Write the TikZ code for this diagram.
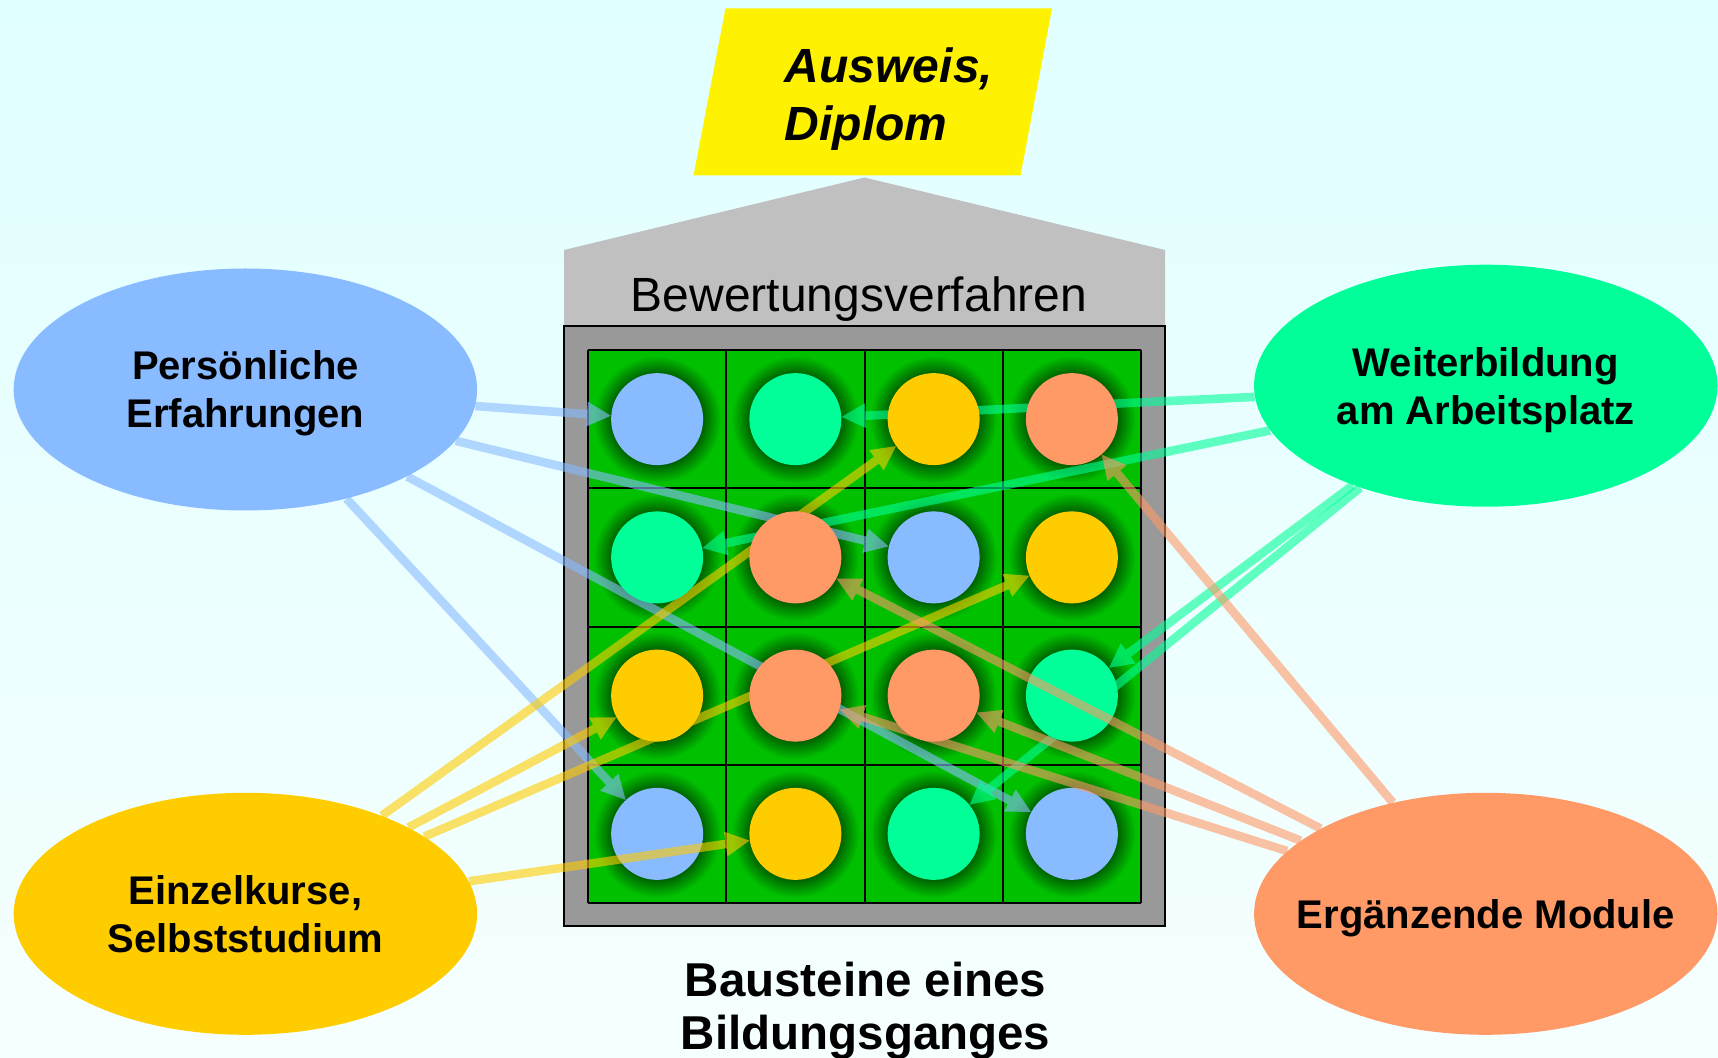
\documentclass[tikz,border=0pt]{standalone}
\usepackage{fontspec}
\setmainfont{Liberation Sans}
\usetikzlibrary{arrows.meta,shapes.geometric,backgrounds}

\definecolor{persblue}{RGB}{136,187,255}
\definecolor{weitgreen}{RGB}{0,255,153}
\definecolor{kursgold}{RGB}{255,204,0}
\definecolor{modorange}{RGB}{255,153,102}
\definecolor{cellgreen}{RGB}{0,192,0}
\definecolor{cellshade}{RGB}{0,75,0}
\definecolor{roofgray}{RGB}{192,192,192}
\definecolor{boxgray}{RGB}{153,153,153}
\definecolor{skytop}{RGB}{224,255,255}
\definecolor{skybottom}{RGB}{246,255,255}

\pgfdeclareradialshading{cellglow}{\pgfpoint{0bp}{0bp}}{color(0bp)=(cellshade); color(15bp)=(cellshade); color(23bp)=(cellgreen); color(50bp)=(cellgreen)}

\tikzset{
  oval/.style={ellipse, minimum width=231.7pt, minimum height=121pt, inner sep=0pt,
    align=center, font=\bfseries\fontsize{20}{24}\selectfont},
  bead/.style={circle, minimum size=46pt, inner sep=0pt},
  feed/.style={line width=4.3pt, opacity=0.6, -{Triangle[length=12pt,width=12.5pt,line width=0pt]}}
}

\begin{document}
\begin{tikzpicture}[x=0.5pt,y=-0.5pt]
  \useasboundingbox (0,0) rectangle (1718,1058);

  \node[oval, fill=persblue, text depth=-3pt] (pers) at (245.4,389.5) {Persönliche\\Erfahrungen};
  \node[oval, fill=weitgreen, text depth=-3pt] (weiter) at (1485.8,385.7) {Weiterbildung\\am Arbeitsplatz};
  \node[oval, fill=kursgold] (kurse) at (245.4,913.8) {Einzelkurse,\\Selbststudium};
  \node[oval, fill=modorange, inner xsep=-15pt, text depth=-3pt] (module) at (1485.8,913.8) {Ergänzende Module};

  \foreach \r/\c/\clr in {1/1/persblue, 1/2/weitgreen, 1/3/kursgold, 1/4/modorange,
                          2/1/weitgreen, 2/2/modorange, 2/3/persblue, 2/4/kursgold,
                          3/1/kursgold, 3/2/modorange, 3/3/modorange, 3/4/weitgreen,
                          4/1/persblue, 4/2/kursgold, 4/3/weitgreen, 4/4/persblue}
    \node[bead, fill=\clr] (c\r\c) at ({588+(\c-0.5)*138.25},{350+(\r-0.5)*138.25}) {};

  \begin{scope}[on background layer]
    \shade[top color=skytop, bottom color=skybottom] (0,0) rectangle (1718,1058);
    \fill[yellow] (725.5,8.5) -- (1052,8.5) -- (1020.5,175.5) -- (693.5,175.5) -- cycle;
    \fill[roofgray] (564,326) -- (564,250) -- (864.5,177.5) -- (1165,250) -- (1165,326) -- cycle;
    \draw[fill=boxgray, line width=1pt] (564,326) rectangle (1165,926);
    \fill[cellgreen] (588,350) rectangle (1141,903);
    \foreach \r in {1,...,4}
      \foreach \c in {1,...,4}
        \shade[shading=cellglow] ({588+(\c-1)*138.25},{350+(\r-1)*138.25}) rectangle ++(138.25,138.25);
    \foreach \k in {0,...,4} {
      \draw[line width=1pt] ({588+\k*138.25},350) -- ++(0,553);
      \draw[line width=1pt] (588,{350+\k*138.25}) -- ++(553,0);
    }
    \draw[feed, persblue] (pers) -- (c11);
    \draw[feed, persblue] (pers) -- (c23);
    \draw[feed, persblue] (pers) -- (c44);
    \draw[feed, persblue] (pers) -- (c41);
    \draw[feed, weitgreen] (weiter) -- (c12);
    \draw[feed, weitgreen] (weiter) -- (c21);
    \draw[feed, weitgreen] (weiter) -- (c34);
    \draw[feed, weitgreen] (weiter) -- (c43);
    \draw[feed, kursgold] (kurse) -- (c13);
    \draw[feed, kursgold] (kurse) -- (c31);
    \draw[feed, kursgold] (kurse) -- (c24);
  \end{scope}

  \draw[feed, kursgold] (kurse) -- (c42);
  \draw[feed, modorange] (module) -- (c14);
  \draw[feed, modorange] (module) -- (c22);
  \draw[feed, modorange] (module) -- (c33);
  \draw[feed, modorange] (module) -- (c32);

  \node[inner sep=0pt, align=left, font=\bfseries\itshape\fontsize{24}{29}\selectfont] (diplom) at (889,99) {Ausweis,\\Diplom};
  \node[anchor=base, inner sep=0pt, font=\fontsize{24}{28}\selectfont] (verfahren) at (859,311.5) {Bewertungsverfahren};
  \node[inner sep=0pt, align=center, font=\bfseries\fontsize{23.75}{26.3}\selectfont] (bausteine) at (865.6,1011) {Bausteine eines\\Bildungsganges};
\end{tikzpicture}
\end{document}
